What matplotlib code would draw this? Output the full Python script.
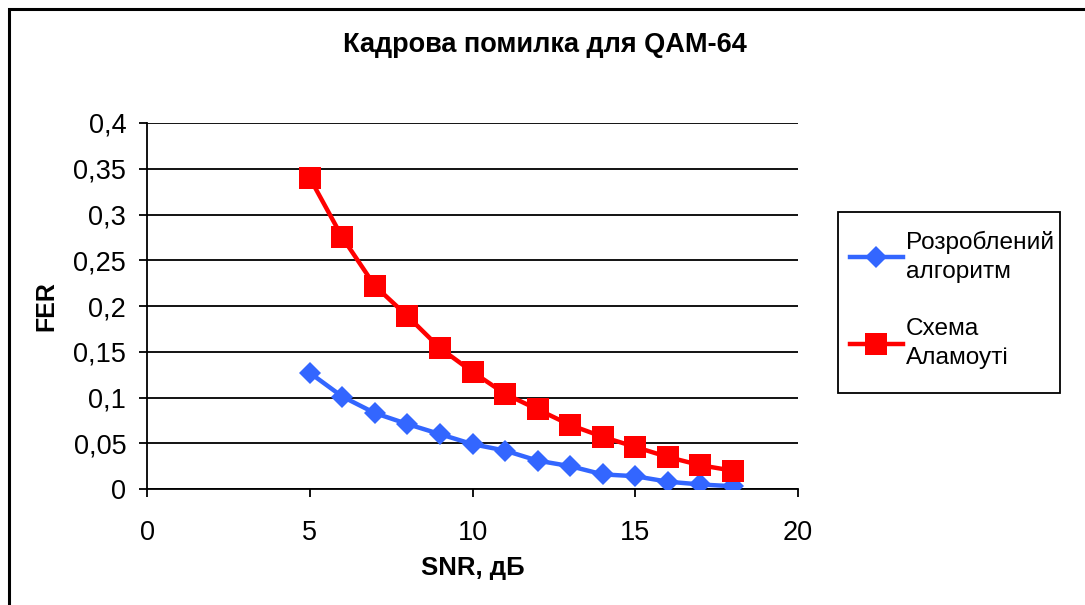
import matplotlib
matplotlib.use("Agg")
import matplotlib.pyplot as plt
from matplotlib.patches import Rectangle
from matplotlib.ticker import FuncFormatter

plt.rcParams['font.family'] = ['Liberation Sans', 'DejaVu Sans']

snr = [5, 6, 7, 8, 9, 10, 11, 12, 13, 14, 15, 16, 17, 18]
fer_proposed = [0.127, 0.101, 0.083, 0.071, 0.060, 0.049, 0.042, 0.031,
                0.025, 0.016, 0.014, 0.008, 0.005, 0.003]
fer_alamouti = [0.340, 0.275, 0.222, 0.189, 0.154, 0.128, 0.104, 0.087,
                0.070, 0.057, 0.046, 0.035, 0.026, 0.020]
x_ticks = [0, 5, 10, 15, 20]
y_ticks = [0, 0.05, 0.1, 0.15, 0.2, 0.25, 0.3, 0.35, 0.4]

title = "Кадрова помилка для QAM-64"
label_proposed = "Розроблений\nалгоритм"
label_alamouti = "Схема\nАламоуті"

W, H = 1085, 605
fig = plt.figure(figsize=(W / 100, H / 100), dpi=100)
ax = fig.add_axes([0.1355, 0.1917, 0.6000, 0.6050])

# chart frame
fig.patches.append(Rectangle((9 / W, -0.05), 1.2, 0.985 + 0.05,
                             transform=fig.transFigure, fill=False,
                             edgecolor='black', linewidth=2.2, zorder=0))
# legend box
fig.patches.append(Rectangle((838 / W, 1 - 393 / H), (1060 - 838) / W,
                             (393 - 212) / H, transform=fig.transFigure,
                             fill=False, edgecolor='black', linewidth=1.3,
                             zorder=0))

for y in y_ticks:
    ax.axhline(y, color='black', linewidth=1.3, zorder=1)

ax.plot(snr, fer_proposed, color='#3366FF', linewidth=3.2, marker='D',
        markersize=11.5, markeredgewidth=0, label=label_proposed, zorder=3)
ax.plot(snr, fer_alamouti, color='#FF0000', linewidth=3.2, marker='s',
        markersize=15.5, markeredgewidth=0, label=label_alamouti, zorder=3)

ax.set_xlim(0, 20)
ax.set_ylim(0, 0.4)
ax.set_xticks(x_ticks)
ax.set_yticks(y_ticks)
fmt = FuncFormatter(lambda v, p: ('%g' % v).replace('.', ','))
ax.xaxis.set_major_formatter(fmt)
ax.yaxis.set_major_formatter(fmt)
ax.tick_params(axis='both', direction='out', length=6, width=1.3,
               labelsize=19.5, color='black')
ax.tick_params(axis='x', pad=16)
ax.tick_params(axis='y', pad=9)
for s in ('top', 'right'):
    ax.spines[s].set_visible(False)
ax.spines['left'].set_linewidth(1.3)
ax.spines['bottom'].set_linewidth(1.3)

ax.set_xlabel("SNR, дБ", fontsize=18.5, fontweight='bold')
ax.set_ylabel("FER", fontsize=18, fontweight='bold')
ax.xaxis.set_label_coords(0.5, -0.183)
ax.yaxis.set_label_coords(-0.136, 0.5)
fig.text(545 / W, 1 - 45 / H, title, fontsize=19.5, fontweight='bold',
         ha='center', va='center')

leg = fig.legend(loc='upper left', bbox_to_anchor=(850 / W, 1 - 231 / H),
                 fontsize=17.6, frameon=False,
                 handlelength=2.15, labelspacing=1.45, borderpad=0,
                 handletextpad=0.15, borderaxespad=0)
for t in leg.get_texts():
    t.set_linespacing(1.4)

fig.savefig("out.png", dpi=100)
